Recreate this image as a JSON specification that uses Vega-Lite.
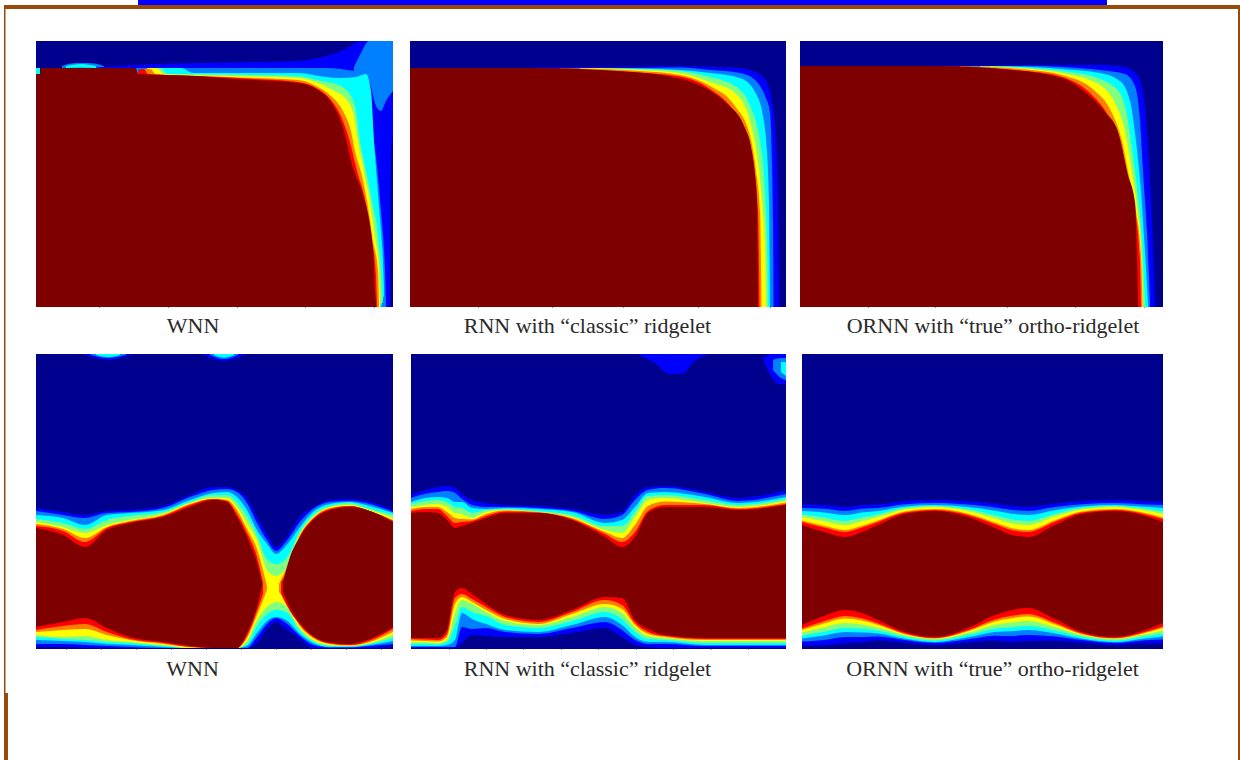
{"$schema":"https://vega.github.io/schema/vega-lite/v6.json","padding":0,"background":"white","bounds":"flush","spacing":0,"resolve":{"scale":{"color":"independent"}},"config":{"view":{"stroke":null},"axis":{"labels":false,"domain":false,"grid":false,"titleFont":"Liberation Serif","titleFontWeight":"normal","titleFontSize":22,"titleColor":"#2a2a2a","titleAnchor":"middle","titleBaseline":"alphabetic","titleAlign":"center","tickColor":"#222","tickSize":-3,"zindex":1}},
"vconcat":[
{"width":1127,"height":1,"view":{"stroke":null},"data":{"values":[
{"part":"page","x":0,"x2":1240,"y":0,"y2":760},
{"part":"bar","x":138,"x2":1107,"y":0,"y2":5},
{"part":"top","x":4,"x2":1240,"y":5,"y2":9},
{"part":"left","x":4,"x2":5.5,"y":9,"y2":693},
{"part":"foot","x":4,"x2":8,"y":693,"y2":760},
{"part":"right","x":1238,"x2":1240,"y":9,"y2":760}]},
"mark":{"type":"rect","clip":false},
"encoding":{"x":{"field":"x","type":"quantitative","axis":null,"scale":{"domain":[36,1163],"nice":false,"zero":false}},"x2":{"field":"x2"},"y":{"field":"y","type":"quantitative","axis":null,"scale":{"domain":[40,41],"nice":false,"zero":false,"reverse":true}},"y2":{"field":"y2"},"color":{"field":"part","type":"nominal","legend":null,"scale":{"domain":["page","bar","top","left","foot","right"],"range":["#ffffff","#0000ff","#9a4a08","#9a4a08","#9a4a08","#9a4a08"]}}}},
{"bounds":"flush","spacing":313,"vconcat":[
{"bounds":"flush","spacing":17,"hconcat":[
{"width":357,"height":266,"view":{"fill":"#00008f","stroke":null},"data":{"values":[
{"level":0.25,"part":"b1","x":26,"y":25,"y2":27},{"level":0.25,"part":"b1","x":35,"y":22.5,"y2":27},{"level":0.25,"part":"b1","x":46,"y":22,"y2":27},{"level":0.25,"part":"b1","x":58,"y":22.5,"y2":27},{"level":0.25,"part":"b1","x":68,"y":25,"y2":27},
{"level":0.375,"part":"b1","x":30,"y":25,"y2":27},{"level":0.375,"part":"b1","x":45,"y":23,"y2":26.5},{"level":0.375,"part":"b1","x":60,"y":25,"y2":27},
{"level":0.375,"part":"b2","x":0,"y":27,"y2":33},{"level":0.375,"part":"b2","x":4,"y":27,"y2":33},
{"level":0.125,"x":60,"y":26.5,"y2":266},{"level":0.125,"x":100,"y":24,"y2":266},{"level":0.125,"x":160,"y":22,"y2":266},{"level":0.125,"x":220,"y":21,"y2":266},{"level":0.125,"x":262,"y":20,"y2":266},{"level":0.125,"x":290,"y":15,"y2":266},{"level":0.125,"x":310,"y":8,"y2":266},{"level":0.125,"x":325,"y":0,"y2":266},{"level":0.125,"x":345,"y":0,"y2":266},{"level":0.125,"x":354,"y":0,"y2":266},{"level":0.125,"x":355,"y":0,"y2":120},{"level":0.125,"x":357,"y":0,"y2":95},
{"level":0.25,"part":"c","x":318,"y":26,"y2":30},{"level":0.25,"part":"c","x":325,"y":12,"y2":35},{"level":0.25,"part":"c","x":333,"y":0,"y2":40},{"level":0.25,"part":"c","x":340,"y":0,"y2":65},{"level":0.25,"part":"c","x":345,"y":0,"y2":70},{"level":0.25,"part":"c","x":350,"y":0,"y2":60},{"level":0.25,"part":"c","x":357,"y":0,"y2":50},
{"level":0.25,"x":100,"y":27,"y2":266},{"level":0.25,"x":160,"y":27,"y2":266},{"level":0.25,"x":220,"y":27,"y2":266},{"level":0.25,"x":262,"y":27,"y2":266},{"level":0.25,"x":290,"y":27,"y2":266},{"level":0.25,"x":305,"y":28,"y2":266},{"level":0.25,"x":318,"y":30,"y2":266},{"level":0.25,"x":330,"y":32,"y2":266},{"level":0.25,"x":335,"y":60,"y2":266},{"level":0.25,"x":337,"y":90,"y2":266},{"level":0.25,"x":341,"y":125,"y2":266},{"level":0.25,"x":345,"y":170,"y2":266},{"level":0.25,"x":349,"y":230,"y2":266},{"level":0.25,"x":350,"y":262,"y2":266},
{"level":0.375,"x":118,"y":33,"y2":266},{"level":0.375,"x":122,"y":27,"y2":266},{"level":0.375,"x":145,"y":27,"y2":266},{"level":0.375,"x":157,"y":32,"y2":266},{"level":0.375,"x":220,"y":32,"y2":266},{"level":0.375,"x":262,"y":32,"y2":266},{"level":0.375,"x":290,"y":36,"y2":266},{"level":0.375,"x":305,"y":37,"y2":266},{"level":0.375,"x":320,"y":36,"y2":266},{"level":0.375,"x":330,"y":33,"y2":266},{"level":0.375,"x":335,"y":50,"y2":266},{"level":0.375,"x":338,"y":100,"y2":266},{"level":0.375,"x":341,"y":140,"y2":266},{"level":0.375,"x":345,"y":190,"y2":266},{"level":0.375,"x":347,"y":220,"y2":258},{"level":0.375,"x":348,"y":245,"y2":254},
{"level":0.5,"x":115,"y":33,"y2":266},{"level":0.5,"x":118,"y":27,"y2":266},{"level":0.5,"x":124,"y":27,"y2":266},{"level":0.5,"x":132,"y":33,"y2":266},{"level":0.5,"x":160,"y":33,"y2":266},{"level":0.5,"x":220,"y":34,"y2":266},{"level":0.5,"x":262,"y":35,"y2":266},{"level":0.5,"x":285,"y":40,"y2":266},{"level":0.5,"x":300,"y":43,"y2":266},{"level":0.5,"x":315,"y":55,"y2":266},{"level":0.5,"x":320,"y":70,"y2":266},{"level":0.5,"x":324,"y":100,"y2":266},{"level":0.5,"x":330,"y":130,"y2":266},{"level":0.5,"x":336,"y":160,"y2":266},{"level":0.5,"x":342,"y":195,"y2":266},{"level":0.5,"x":345,"y":230,"y2":262},{"level":0.5,"x":346.5,"y":258,"y2":262},
{"level":0.625,"x":108,"y":33,"y2":266},{"level":0.625,"x":112,"y":27,"y2":266},{"level":0.625,"x":120,"y":27,"y2":266},{"level":0.625,"x":128,"y":33,"y2":266},{"level":0.625,"x":160,"y":34.5,"y2":266},{"level":0.625,"x":220,"y":35.5,"y2":266},{"level":0.625,"x":262,"y":37,"y2":266},{"level":0.625,"x":285,"y":43,"y2":266},{"level":0.625,"x":298,"y":50,"y2":266},{"level":0.625,"x":310,"y":58,"y2":266},{"level":0.625,"x":318,"y":75,"y2":266},{"level":0.625,"x":322,"y":100,"y2":266},{"level":0.625,"x":328,"y":130,"y2":266},{"level":0.625,"x":333,"y":155,"y2":266},{"level":0.625,"x":339,"y":195,"y2":266},{"level":0.625,"x":343,"y":225,"y2":266},{"level":0.625,"x":344,"y":262,"y2":266},
{"level":0.75,"x":104,"y":33,"y2":266},{"level":0.75,"x":108,"y":28,"y2":266},{"level":0.75,"x":114,"y":28,"y2":266},{"level":0.75,"x":120,"y":33,"y2":266},{"level":0.75,"x":160,"y":35,"y2":266},{"level":0.75,"x":220,"y":37,"y2":266},{"level":0.75,"x":262,"y":39,"y2":266},{"level":0.75,"x":282,"y":46,"y2":266},{"level":0.75,"x":295,"y":55,"y2":266},{"level":0.75,"x":307,"y":70,"y2":266},{"level":0.75,"x":315,"y":90,"y2":266},{"level":0.75,"x":319,"y":110,"y2":266},{"level":0.75,"x":326,"y":135,"y2":266},{"level":0.75,"x":331,"y":160,"y2":266},{"level":0.75,"x":337,"y":200,"y2":266},{"level":0.75,"x":342,"y":230,"y2":266},{"level":0.75,"x":343,"y":262,"y2":266},
{"level":0.875,"x":101,"y":33,"y2":266},{"level":0.875,"x":104,"y":28,"y2":266},{"level":0.875,"x":108,"y":28,"y2":266},{"level":0.875,"x":112,"y":33,"y2":266},{"level":0.875,"x":160,"y":35,"y2":266},{"level":0.875,"x":220,"y":38,"y2":266},{"level":0.875,"x":262,"y":41,"y2":266},{"level":0.875,"x":282,"y":48,"y2":266},{"level":0.875,"x":295,"y":59,"y2":266},{"level":0.875,"x":307,"y":80,"y2":266},{"level":0.875,"x":315,"y":105,"y2":266},{"level":0.875,"x":321,"y":130,"y2":266},{"level":0.875,"x":329,"y":158,"y2":266},{"level":0.875,"x":336,"y":200,"y2":266},{"level":0.875,"x":340,"y":235,"y2":266},{"level":0.875,"x":341,"y":262,"y2":266},
{"level":1,"x":0,"y":33,"y2":266},{"level":1,"x":4,"y":33,"y2":266},{"level":1,"x":5,"y":27,"y2":266},{"level":1,"x":100,"y":27,"y2":266},{"level":1,"x":101.5,"y":33,"y2":266},{"level":1,"x":160,"y":35,"y2":266},{"level":1,"x":200,"y":38,"y2":266},{"level":1,"x":262,"y":42,"y2":266},{"level":1,"x":282,"y":49,"y2":266},{"level":1,"x":295,"y":61,"y2":266},{"level":1,"x":307,"y":87,"y2":266},{"level":1,"x":317,"y":127,"y2":266},{"level":1,"x":327,"y":154,"y2":266},{"level":1,"x":337,"y":207,"y2":266},{"level":1,"x":339,"y":250,"y2":266},{"level":1,"x":340,"y":262,"y2":266}]},
"mark":{"type":"area","interpolate":"monotone","orient":"vertical"},
"encoding":{"x":{"field":"x","type":"quantitative","scale":{"domain":[0,357],"nice":false,"zero":false},"axis":{"title":"WNN","titleX":156.5,"titleY":25,"values":[63,132,201,269,338]}},"y":{"field":"y","type":"quantitative","scale":{"domain":[0,266],"nice":false,"zero":false,"reverse":true},"axis":{"title":null,"values":[69,117,167,214,261]}},"y2":{"field":"y2"},"detail":{"field":"part"},"color":{"field":"level","type":"ordinal","legend":null,"scale":{"domain":[0.125,0.25,0.375,0.5,0.625,0.75,0.875,1],"range":["#0000ff","#0080ff","#00ffff","#80ff80","#ffff00","#ff8000","#ff0000","#7f0000"]}}}},
{"bounds":"flush","spacing":14,"hconcat":[
{"width":376,"height":266,"view":{"fill":"#00008f","stroke":null},"data":{"values":[
{"level":0.125,"x":120,"y":26.5,"y2":266},{"level":0.125,"x":200,"y":26,"y2":266},{"level":0.125,"x":270,"y":25,"y2":266},{"level":0.125,"x":300,"y":26,"y2":266},{"level":0.125,"x":330,"y":27,"y2":266},{"level":0.125,"x":345,"y":31,"y2":266},{"level":0.125,"x":355,"y":38,"y2":266},{"level":0.125,"x":362,"y":60,"y2":266},{"level":0.125,"x":366,"y":100,"y2":266},{"level":0.125,"x":368,"y":150,"y2":266},{"level":0.125,"x":369,"y":262,"y2":266},
{"level":0.25,"x":160,"y":27,"y2":266},{"level":0.25,"x":230,"y":27,"y2":266},{"level":0.25,"x":270,"y":26.5,"y2":266},{"level":0.25,"x":300,"y":29,"y2":266},{"level":0.25,"x":330,"y":32,"y2":266},{"level":0.25,"x":345,"y":39,"y2":266},{"level":0.25,"x":355,"y":55,"y2":266},{"level":0.25,"x":360,"y":71,"y2":266},{"level":0.25,"x":362,"y":120,"y2":266},{"level":0.25,"x":363,"y":180,"y2":266},{"level":0.25,"x":363.5,"y":262,"y2":266},
{"level":0.375,"x":170,"y":27,"y2":266},{"level":0.375,"x":230,"y":27.5,"y2":266},{"level":0.375,"x":270,"y":29,"y2":266},{"level":0.375,"x":300,"y":32,"y2":266},{"level":0.375,"x":330,"y":37,"y2":266},{"level":0.375,"x":345,"y":51,"y2":266},{"level":0.375,"x":353,"y":75,"y2":266},{"level":0.375,"x":357,"y":110,"y2":266},{"level":0.375,"x":359,"y":160,"y2":266},{"level":0.375,"x":360,"y":262,"y2":266},
{"level":0.5,"x":175,"y":27,"y2":266},{"level":0.5,"x":230,"y":28,"y2":266},{"level":0.5,"x":270,"y":30,"y2":266},{"level":0.5,"x":300,"y":36,"y2":266},{"level":0.5,"x":325,"y":45,"y2":266},{"level":0.5,"x":340,"y":65,"y2":266},{"level":0.5,"x":350,"y":100,"y2":266},{"level":0.5,"x":355,"y":150,"y2":266},{"level":0.5,"x":357,"y":200,"y2":266},{"level":0.5,"x":358,"y":262,"y2":266},
{"level":0.625,"x":170,"y":27,"y2":266},{"level":0.625,"x":230,"y":29,"y2":266},{"level":0.625,"x":270,"y":32,"y2":266},{"level":0.625,"x":300,"y":41,"y2":266},{"level":0.625,"x":325,"y":52,"y2":266},{"level":0.625,"x":340,"y":80,"y2":266},{"level":0.625,"x":348,"y":120,"y2":266},{"level":0.625,"x":353,"y":170,"y2":266},{"level":0.625,"x":355,"y":200,"y2":266},{"level":0.625,"x":356,"y":262,"y2":266},
{"level":0.75,"x":150,"y":27,"y2":266},{"level":0.75,"x":230,"y":30,"y2":266},{"level":0.75,"x":270,"y":34,"y2":266},{"level":0.75,"x":300,"y":45,"y2":266},{"level":0.75,"x":325,"y":65,"y2":266},{"level":0.75,"x":340,"y":95,"y2":266},{"level":0.75,"x":346,"y":130,"y2":266},{"level":0.75,"x":350,"y":170,"y2":266},{"level":0.75,"x":351.5,"y":262,"y2":266},
{"level":0.875,"x":125,"y":27,"y2":266},{"level":0.875,"x":210,"y":30.5,"y2":266},{"level":0.875,"x":270,"y":35.5,"y2":266},{"level":0.875,"x":300,"y":48,"y2":266},{"level":0.875,"x":325,"y":72,"y2":266},{"level":0.875,"x":338,"y":98,"y2":266},{"level":0.875,"x":344,"y":125,"y2":266},{"level":0.875,"x":348,"y":170,"y2":266},{"level":0.875,"x":349.5,"y":262,"y2":266},
{"level":1,"x":0,"y":27,"y2":266},{"level":1,"x":123,"y":27,"y2":266},{"level":1,"x":200,"y":29.5,"y2":266},{"level":1,"x":262,"y":36,"y2":266},{"level":1,"x":295,"y":47,"y2":266},{"level":1,"x":315,"y":61,"y2":266},{"level":1,"x":335,"y":87,"y2":266},{"level":1,"x":342,"y":111,"y2":266},{"level":1,"x":347,"y":161,"y2":266},{"level":1,"x":348,"y":262,"y2":266}]},
"mark":{"type":"area","interpolate":"monotone","orient":"vertical"},
"encoding":{"x":{"field":"x","type":"quantitative","scale":{"domain":[0,376],"nice":false,"zero":false},"axis":{"title":"RNN with “classic” ridgelet","titleX":177,"titleY":25,"values":[68,142,213,288,360]}},"y":{"field":"y","type":"quantitative","scale":{"domain":[0,266],"nice":false,"zero":false,"reverse":true},"axis":{"title":null,"values":[69,116,166,214,262]}},"y2":{"field":"y2"},"color":{"field":"level","type":"ordinal","legend":null,"scale":{"domain":[0.125,0.25,0.375,0.5,0.625,0.75,0.875,1],"range":["#0000ff","#0080ff","#00ffff","#80ff80","#ffff00","#ff8000","#ff0000","#7f0000"]}}}},
{"width":363,"height":266,"view":{"fill":"#00008f","stroke":null},"data":{"values":[
{"level":0.125,"x":130,"y":25,"y2":266},{"level":0.125,"x":200,"y":24.5,"y2":266},{"level":0.125,"x":262,"y":24,"y2":266},{"level":0.125,"x":300,"y":24,"y2":266},{"level":0.125,"x":325,"y":26,"y2":266},{"level":0.125,"x":338,"y":35,"y2":266},{"level":0.125,"x":345,"y":65,"y2":266},{"level":0.125,"x":349,"y":120,"y2":266},{"level":0.125,"x":352,"y":180,"y2":266},{"level":0.125,"x":355,"y":262,"y2":266},
{"level":0.25,"x":170,"y":25,"y2":266},{"level":0.25,"x":230,"y":25,"y2":266},{"level":0.25,"x":262,"y":26,"y2":266},{"level":0.25,"x":300,"y":29,"y2":266},{"level":0.25,"x":325,"y":33,"y2":266},{"level":0.25,"x":335,"y":45,"y2":266},{"level":0.25,"x":340,"y":80,"y2":266},{"level":0.25,"x":343,"y":130,"y2":266},{"level":0.25,"x":347,"y":190,"y2":266},{"level":0.25,"x":350,"y":262,"y2":266},
{"level":0.375,"x":180,"y":25,"y2":266},{"level":0.375,"x":230,"y":26,"y2":266},{"level":0.375,"x":262,"y":28,"y2":266},{"level":0.375,"x":300,"y":32,"y2":266},{"level":0.375,"x":320,"y":40,"y2":266},{"level":0.375,"x":330,"y":60,"y2":266},{"level":0.375,"x":336,"y":100,"y2":266},{"level":0.375,"x":341,"y":150,"y2":266},{"level":0.375,"x":345,"y":210,"y2":266},{"level":0.375,"x":348,"y":262,"y2":266},
{"level":0.5,"x":190,"y":25,"y2":266},{"level":0.5,"x":230,"y":27,"y2":266},{"level":0.5,"x":262,"y":30,"y2":266},{"level":0.5,"x":300,"y":38,"y2":266},{"level":0.5,"x":320,"y":52,"y2":266},{"level":0.5,"x":328,"y":80,"y2":266},{"level":0.5,"x":333,"y":115,"y2":266},{"level":0.5,"x":338,"y":155,"y2":266},{"level":0.5,"x":342,"y":200,"y2":266},{"level":0.5,"x":345,"y":262,"y2":266},
{"level":0.625,"x":180,"y":25.5,"y2":266},{"level":0.625,"x":230,"y":28,"y2":266},{"level":0.625,"x":262,"y":32,"y2":266},{"level":0.625,"x":300,"y":44,"y2":266},{"level":0.625,"x":315,"y":62,"y2":266},{"level":0.625,"x":325,"y":90,"y2":266},{"level":0.625,"x":331,"y":125,"y2":266},{"level":0.625,"x":337,"y":165,"y2":266},{"level":0.625,"x":341,"y":205,"y2":266},{"level":0.625,"x":343,"y":262,"y2":266},
{"level":0.75,"x":160,"y":25,"y2":266},{"level":0.75,"x":230,"y":29,"y2":266},{"level":0.75,"x":262,"y":34,"y2":266},{"level":0.75,"x":295,"y":50,"y2":266},{"level":0.75,"x":312,"y":72,"y2":266},{"level":0.75,"x":322,"y":100,"y2":266},{"level":0.75,"x":329,"y":135,"y2":266},{"level":0.75,"x":336,"y":170,"y2":266},{"level":0.75,"x":341,"y":215,"y2":266},{"level":0.75,"x":342.5,"y":262,"y2":266},
{"level":0.875,"x":140,"y":25,"y2":266},{"level":0.875,"x":215,"y":29,"y2":266},{"level":0.875,"x":262,"y":36,"y2":266},{"level":0.875,"x":290,"y":52,"y2":266},{"level":0.875,"x":308,"y":74,"y2":266},{"level":0.875,"x":320,"y":98,"y2":266},{"level":0.875,"x":328,"y":137,"y2":266},{"level":0.875,"x":335,"y":168,"y2":266},{"level":0.875,"x":340,"y":220,"y2":266},{"level":0.875,"x":341,"y":262,"y2":266},
{"level":1,"x":0,"y":25,"y2":266},{"level":1,"x":132,"y":25,"y2":266},{"level":1,"x":212,"y":29,"y2":266},{"level":1,"x":262,"y":37,"y2":266},{"level":1,"x":285,"y":51,"y2":266},{"level":1,"x":305,"y":71,"y2":266},{"level":1,"x":318,"y":91,"y2":266},{"level":1,"x":328,"y":134,"y2":266},{"level":1,"x":335,"y":161,"y2":266},{"level":1,"x":338,"y":262,"y2":266}]},
"mark":{"type":"area","interpolate":"monotone","orient":"vertical"},
"encoding":{"x":{"field":"x","type":"quantitative","scale":{"domain":[0,363],"nice":false,"zero":false},"axis":{"title":"ORNN with “true” ortho-ridgelet","titleX":192.5,"titleY":25,"values":[68,135,207,275,344]}},"y":{"field":"y","type":"quantitative","scale":{"domain":[0,266],"nice":false,"zero":false,"reverse":true},"axis":{"title":null,"values":[66,114,161,209,256]}},"y2":{"field":"y2"},"color":{"field":"level","type":"ordinal","legend":null,"scale":{"domain":[0.125,0.25,0.375,0.5,0.625,0.75,0.875,1],"range":["#0000ff","#0080ff","#00ffff","#80ff80","#ffff00","#ff8000","#ff0000","#7f0000"]}}}}
]}]},
{"bounds":"flush","spacing":18,"hconcat":[
{"width":357,"height":295,"view":{"fill":"#00008f","stroke":null},"data":{"values":[
{"level":0.125,"part":"t1","x":49,"y":0,"y2":1},{"level":0.125,"part":"t1","x":60,"y":0,"y2":4},{"level":0.125,"part":"t1","x":72,"y":0,"y2":6},{"level":0.125,"part":"t1","x":84,"y":0,"y2":4},{"level":0.125,"part":"t1","x":95,"y":0,"y2":1},
{"level":0.25,"part":"t1","x":55,"y":0,"y2":1},{"level":0.25,"part":"t1","x":72,"y":0,"y2":4},{"level":0.25,"part":"t1","x":90,"y":0,"y2":1},
{"level":0.375,"part":"t1","x":60,"y":0,"y2":1},{"level":0.375,"part":"t1","x":72,"y":0,"y2":3},{"level":0.375,"part":"t1","x":84,"y":0,"y2":1},
{"level":0.125,"part":"t2","x":168,"y":0,"y2":1},{"level":0.125,"part":"t2","x":178,"y":0,"y2":5},{"level":0.125,"part":"t2","x":188,"y":0,"y2":7},{"level":0.125,"part":"t2","x":198,"y":0,"y2":5},{"level":0.125,"part":"t2","x":208,"y":0,"y2":1},
{"level":0.25,"part":"t2","x":174,"y":0,"y2":1},{"level":0.25,"part":"t2","x":188,"y":0,"y2":5},{"level":0.25,"part":"t2","x":202,"y":0,"y2":1},
{"level":0.375,"part":"t2","x":178,"y":0,"y2":1},{"level":0.375,"part":"t2","x":188,"y":0,"y2":3.5},{"level":0.375,"part":"t2","x":198,"y":0,"y2":1},
{"level":0.125,"x":0,"y":154,"y2":293},{"level":0.125,"x":27,"y":158,"y2":293},{"level":0.125,"x":49,"y":161,"y2":294},{"level":0.125,"x":71,"y":157,"y2":294},{"level":0.125,"x":94,"y":156,"y2":294},{"level":0.125,"x":127,"y":152,"y2":294},{"level":0.125,"x":154,"y":141,"y2":294},{"level":0.125,"x":177,"y":133,"y2":294},{"level":0.125,"x":191,"y":133,"y2":294},{"level":0.125,"x":201,"y":136,"y2":294},{"level":0.125,"x":211,"y":144,"y2":294},{"level":0.125,"x":221,"y":163,"y2":289},{"level":0.125,"x":231,"y":180,"y2":275},{"level":0.125,"x":240,"y":193,"y2":268},{"level":0.125,"x":250,"y":184,"y2":275},{"level":0.125,"x":264,"y":163,"y2":285},{"level":0.125,"x":277,"y":153,"y2":294},{"level":0.125,"x":294,"y":146,"y2":294},{"level":0.125,"x":314,"y":145,"y2":294},{"level":0.125,"x":334,"y":148,"y2":294},{"level":0.125,"x":357,"y":156,"y2":292},
{"level":0.25,"x":0,"y":157,"y2":290},{"level":0.25,"x":27,"y":161,"y2":290},{"level":0.25,"x":49,"y":164,"y2":291},{"level":0.25,"x":71,"y":159,"y2":292},{"level":0.25,"x":94,"y":158,"y2":293},{"level":0.25,"x":127,"y":154,"y2":294},{"level":0.25,"x":154,"y":143,"y2":294},{"level":0.25,"x":177,"y":136,"y2":294},{"level":0.25,"x":191,"y":135,"y2":294},{"level":0.25,"x":201,"y":138,"y2":294},{"level":0.25,"x":211,"y":149,"y2":294},{"level":0.25,"x":221,"y":169,"y2":283},{"level":0.25,"x":231,"y":186,"y2":270},{"level":0.25,"x":240,"y":197,"y2":264},{"level":0.25,"x":250,"y":188,"y2":269},{"level":0.25,"x":264,"y":168,"y2":282},{"level":0.25,"x":277,"y":155,"y2":291},{"level":0.25,"x":294,"y":148,"y2":293.5},{"level":0.25,"x":314,"y":147,"y2":293.5},{"level":0.25,"x":334,"y":150,"y2":292},{"level":0.25,"x":357,"y":158,"y2":290},
{"level":0.375,"x":0,"y":161,"y2":286},{"level":0.375,"x":27,"y":164,"y2":287},{"level":0.375,"x":49,"y":171,"y2":288},{"level":0.375,"x":71,"y":161,"y2":290},{"level":0.375,"x":94,"y":159,"y2":291},{"level":0.375,"x":127,"y":156,"y2":293},{"level":0.375,"x":154,"y":146,"y2":294},{"level":0.375,"x":177,"y":139,"y2":294},{"level":0.375,"x":191,"y":138,"y2":294},{"level":0.375,"x":201,"y":143,"y2":294},{"level":0.375,"x":211,"y":156,"y2":292},{"level":0.375,"x":221,"y":176,"y2":279},{"level":0.375,"x":231,"y":190,"y2":267},{"level":0.375,"x":240,"y":200,"y2":263},{"level":0.375,"x":250,"y":192,"y2":266},{"level":0.375,"x":264,"y":173,"y2":280},{"level":0.375,"x":277,"y":158,"y2":289},{"level":0.375,"x":294,"y":150,"y2":293},{"level":0.375,"x":314,"y":148,"y2":293},{"level":0.375,"x":334,"y":152,"y2":291},{"level":0.375,"x":357,"y":159,"y2":287},
{"level":0.5,"x":0,"y":165,"y2":283},{"level":0.5,"x":27,"y":169,"y2":285},{"level":0.5,"x":49,"y":175,"y2":286},{"level":0.5,"x":71,"y":166,"y2":288},{"level":0.5,"x":94,"y":162,"y2":289},{"level":0.5,"x":127,"y":158,"y2":292},{"level":0.5,"x":154,"y":148,"y2":294},{"level":0.5,"x":177,"y":141,"y2":294},{"level":0.5,"x":191,"y":141,"y2":294},{"level":0.5,"x":201,"y":148,"y2":294},{"level":0.5,"x":211,"y":162,"y2":290},{"level":0.5,"x":221,"y":181,"y2":272},{"level":0.5,"x":231,"y":205,"y2":260},{"level":0.5,"x":240,"y":210,"y2":256},{"level":0.5,"x":250,"y":205,"y2":258},{"level":0.5,"x":264,"y":177,"y2":277},{"level":0.5,"x":277,"y":161,"y2":287.5},{"level":0.5,"x":294,"y":152,"y2":292},{"level":0.5,"x":314,"y":149,"y2":292.5},{"level":0.5,"x":334,"y":155,"y2":290},{"level":0.5,"x":357,"y":161,"y2":284},
{"level":0.625,"x":0,"y":168,"y2":281},{"level":0.625,"x":27,"y":173,"y2":283},{"level":0.625,"x":49,"y":179,"y2":282},{"level":0.625,"x":71,"y":171,"y2":286},{"level":0.625,"x":94,"y":166,"y2":288},{"level":0.625,"x":127,"y":160,"y2":291},{"level":0.625,"x":154,"y":149,"y2":294},{"level":0.625,"x":177,"y":144,"y2":294},{"level":0.625,"x":191,"y":144,"y2":294},{"level":0.625,"x":201,"y":153,"y2":294},{"level":0.625,"x":211,"y":169,"y2":287},{"level":0.625,"x":221,"y":186,"y2":266},{"level":0.625,"x":231,"y":216,"y2":253},{"level":0.625,"x":240,"y":222,"y2":248},{"level":0.625,"x":250,"y":215,"y2":252},{"level":0.625,"x":264,"y":180,"y2":274},{"level":0.625,"x":277,"y":163,"y2":286},{"level":0.625,"x":294,"y":153,"y2":291},{"level":0.625,"x":314,"y":151,"y2":292},{"level":0.625,"x":334,"y":156,"y2":289},{"level":0.625,"x":357,"y":164,"y2":281},
{"level":0.75,"part":"L","x":0,"y":170,"y2":278},{"level":0.75,"part":"L","x":27,"y":175,"y2":276},{"level":0.75,"part":"L","x":49,"y":184,"y2":275},{"level":0.75,"part":"L","x":71,"y":173,"y2":281},{"level":0.75,"part":"L","x":94,"y":167,"y2":286},{"level":0.75,"part":"L","x":127,"y":161,"y2":290},{"level":0.75,"part":"L","x":154,"y":150,"y2":293},{"level":0.75,"part":"L","x":177,"y":145,"y2":294},{"level":0.75,"part":"L","x":191,"y":146,"y2":294},{"level":0.75,"part":"L","x":201,"y":156,"y2":294},{"level":0.75,"part":"L","x":211,"y":175,"y2":284},{"level":0.75,"part":"L","x":221,"y":195,"y2":261},{"level":0.75,"part":"L","x":231,"y":232,"y2":236},
{"level":0.75,"part":"R","x":243,"y":230,"y2":238},{"level":0.75,"part":"R","x":250,"y":215,"y2":246},{"level":0.75,"part":"R","x":264,"y":181,"y2":272},{"level":0.75,"part":"R","x":277,"y":164,"y2":284},{"level":0.75,"part":"R","x":294,"y":154,"y2":290},{"level":0.75,"part":"R","x":314,"y":152,"y2":291.5},{"level":0.75,"part":"R","x":334,"y":157,"y2":288},{"level":0.75,"part":"R","x":357,"y":166,"y2":278},
{"level":0.875,"part":"L","x":0,"y":172,"y2":276},{"level":0.875,"part":"L","x":27,"y":177,"y2":272},{"level":0.875,"part":"L","x":49,"y":188,"y2":270},{"level":0.875,"part":"L","x":71,"y":174,"y2":278},{"level":0.875,"part":"L","x":94,"y":168,"y2":285},{"level":0.875,"part":"L","x":127,"y":162,"y2":289},{"level":0.875,"part":"L","x":154,"y":151,"y2":293},{"level":0.875,"part":"L","x":177,"y":145,"y2":294},{"level":0.875,"part":"L","x":191,"y":147,"y2":294},{"level":0.875,"part":"L","x":201,"y":160,"y2":294},{"level":0.875,"part":"L","x":211,"y":179,"y2":282},{"level":0.875,"part":"L","x":221,"y":203,"y2":257},{"level":0.875,"part":"L","x":227,"y":229,"y2":240},
{"level":0.875,"part":"R","x":245,"y":228,"y2":240},{"level":0.875,"part":"R","x":250,"y":220,"y2":250},{"level":0.875,"part":"R","x":264,"y":182,"y2":271},{"level":0.875,"part":"R","x":277,"y":165,"y2":283},{"level":0.875,"part":"R","x":294,"y":155,"y2":289.5},{"level":0.875,"part":"R","x":314,"y":152,"y2":291},{"level":0.875,"part":"R","x":334,"y":157,"y2":286.5},{"level":0.875,"part":"R","x":357,"y":167,"y2":275},
{"level":1,"part":"L","x":0,"y":174,"y2":273},{"level":1,"part":"L","x":27,"y":181,"y2":268},{"level":1,"part":"L","x":49,"y":193,"y2":264},{"level":1,"part":"L","x":71,"y":176,"y2":274},{"level":1,"part":"L","x":94,"y":169,"y2":283},{"level":1,"part":"L","x":127,"y":163,"y2":288},{"level":1,"part":"L","x":154,"y":153,"y2":292},{"level":1,"part":"L","x":177,"y":146,"y2":294},{"level":1,"part":"L","x":191,"y":148,"y2":294},{"level":1,"part":"L","x":201,"y":163,"y2":294},{"level":1,"part":"L","x":211,"y":183,"y2":279},{"level":1,"part":"L","x":221,"y":209,"y2":253},{"level":1,"part":"L","x":226,"y":228,"y2":232},
{"level":1,"part":"R","x":247,"y":228,"y2":238},{"level":1,"part":"R","x":254,"y":203,"y2":254},{"level":1,"part":"R","x":264,"y":183,"y2":269},{"level":1,"part":"R","x":277,"y":166,"y2":282},{"level":1,"part":"R","x":294,"y":156,"y2":288.5},{"level":1,"part":"R","x":314,"y":153,"y2":290},{"level":1,"part":"R","x":334,"y":157,"y2":285},{"level":1,"part":"R","x":357,"y":168,"y2":273}]},
"mark":{"type":"area","interpolate":"monotone","orient":"vertical"},
"encoding":{"x":{"field":"x","type":"quantitative","scale":{"domain":[0,357],"nice":false,"zero":false},"axis":{"title":"WNN","titleX":156,"titleY":26,"values":[30,65,100,135,170,205,240,275,310,345],"tickSize":-2}},"y":{"field":"y","type":"quantitative","scale":{"domain":[0,295],"nice":false,"zero":false,"reverse":true},"axis":null},"y2":{"field":"y2"},"detail":{"field":"part"},"color":{"field":"level","type":"ordinal","legend":null,"scale":{"domain":[0.125,0.25,0.375,0.5,0.625,0.75,0.875,1],"range":["#0000ff","#0080ff","#00ffff","#80ff80","#ffff00","#ff8000","#ff0000","#7f0000"]}}}},
{"bounds":"flush","spacing":16,"hconcat":[
{"width":375,"height":295,"view":{"fill":"#00008f","stroke":null},"data":{"values":[
{"level":0.125,"part":"t1","x":228,"y":0,"y2":1},{"level":0.125,"part":"t1","x":245,"y":0,"y2":10},{"level":0.125,"part":"t1","x":258,"y":0,"y2":20},{"level":0.125,"part":"t1","x":270,"y":0,"y2":20},{"level":0.125,"part":"t1","x":285,"y":0,"y2":6},{"level":0.125,"part":"t1","x":295,"y":0,"y2":1},
{"level":0.125,"part":"t2","x":352,"y":4,"y2":5},{"level":0.125,"part":"t2","x":360,"y":0,"y2":22},{"level":0.125,"part":"t2","x":368,"y":0,"y2":30},{"level":0.125,"part":"t2","x":375,"y":0,"y2":30},
{"level":0.25,"part":"t2","x":362,"y":6,"y2":16},{"level":0.25,"part":"t2","x":370,"y":4,"y2":24},{"level":0.25,"part":"t2","x":375,"y":4,"y2":26},
{"level":0.375,"part":"t2","x":370,"y":8,"y2":18},{"level":0.375,"part":"t2","x":375,"y":8,"y2":22},
{"level":0.125,"x":0,"y":141,"y2":294},{"level":0.125,"x":14,"y":136,"y2":294},{"level":0.125,"x":27,"y":133,"y2":294},{"level":0.125,"x":36,"y":132,"y2":294},{"level":0.125,"x":44,"y":134,"y2":294},{"level":0.125,"x":51,"y":140,"y2":289},{"level":0.125,"x":61,"y":146,"y2":281},{"level":0.125,"x":75,"y":149,"y2":282},{"level":0.125,"x":94,"y":151,"y2":283},{"level":0.125,"x":127,"y":152,"y2":283},{"level":0.125,"x":161,"y":155,"y2":279},{"level":0.125,"x":194,"y":161,"y2":274},{"level":0.125,"x":211,"y":158,"y2":283},{"level":0.125,"x":224,"y":141,"y2":291},{"level":0.125,"x":237,"y":133,"y2":293},{"level":0.125,"x":254,"y":132,"y2":294},{"level":0.125,"x":294,"y":138,"y2":294},{"level":0.125,"x":327,"y":144,"y2":294},{"level":0.125,"x":375,"y":136,"y2":294},
{"level":0.25,"x":0,"y":144,"y2":293},{"level":0.25,"x":14,"y":140,"y2":293},{"level":0.25,"x":27,"y":138,"y2":293},{"level":0.25,"x":36,"y":137,"y2":293},{"level":0.25,"x":44,"y":139,"y2":293},{"level":0.25,"x":51,"y":145,"y2":273},{"level":0.25,"x":61,"y":151,"y2":275},{"level":0.25,"x":75,"y":153,"y2":274},{"level":0.25,"x":94,"y":153,"y2":278},{"level":0.25,"x":127,"y":154,"y2":280},{"level":0.25,"x":161,"y":157,"y2":274},{"level":0.25,"x":194,"y":165,"y2":268},{"level":0.25,"x":211,"y":161,"y2":276},{"level":0.25,"x":224,"y":146,"y2":286},{"level":0.25,"x":237,"y":136,"y2":290},{"level":0.25,"x":254,"y":134,"y2":290},{"level":0.25,"x":294,"y":140,"y2":292},{"level":0.25,"x":327,"y":147,"y2":292},{"level":0.25,"x":375,"y":140,"y2":292},
{"level":0.375,"x":0,"y":148,"y2":292},{"level":0.375,"x":14,"y":144,"y2":292},{"level":0.375,"x":27,"y":143,"y2":292},{"level":0.375,"x":36,"y":144,"y2":291},{"level":0.375,"x":44,"y":148,"y2":286},{"level":0.375,"x":51,"y":148,"y2":259},{"level":0.375,"x":61,"y":154,"y2":265},{"level":0.375,"x":75,"y":155,"y2":270},{"level":0.375,"x":94,"y":154,"y2":276},{"level":0.375,"x":127,"y":155,"y2":278},{"level":0.375,"x":161,"y":158,"y2":271},{"level":0.375,"x":194,"y":169,"y2":263},{"level":0.375,"x":211,"y":166,"y2":271},{"level":0.375,"x":224,"y":153,"y2":283},{"level":0.375,"x":237,"y":139,"y2":288},{"level":0.375,"x":254,"y":138,"y2":288},{"level":0.375,"x":294,"y":143,"y2":291},{"level":0.375,"x":327,"y":149,"y2":291},{"level":0.375,"x":375,"y":143,"y2":291},
{"level":0.5,"x":0,"y":150,"y2":290},{"level":0.5,"x":14,"y":147,"y2":290},{"level":0.5,"x":27,"y":146,"y2":290.5},{"level":0.5,"x":36,"y":148,"y2":288},{"level":0.5,"x":44,"y":153,"y2":272},{"level":0.5,"x":51,"y":154,"y2":253},{"level":0.5,"x":61,"y":159,"y2":258},{"level":0.5,"x":75,"y":156,"y2":262},{"level":0.5,"x":94,"y":155,"y2":271},{"level":0.5,"x":127,"y":157,"y2":274},{"level":0.5,"x":161,"y":161,"y2":267},{"level":0.5,"x":194,"y":172,"y2":258},{"level":0.5,"x":211,"y":172,"y2":265},{"level":0.5,"x":224,"y":158,"y2":278},{"level":0.5,"x":237,"y":142,"y2":285},{"level":0.5,"x":254,"y":141,"y2":286},{"level":0.5,"x":294,"y":146,"y2":289},{"level":0.5,"x":327,"y":151,"y2":289},{"level":0.5,"x":375,"y":145,"y2":289},
{"level":0.625,"x":0,"y":153,"y2":288},{"level":0.625,"x":14,"y":151,"y2":288},{"level":0.625,"x":27,"y":150,"y2":289},{"level":0.625,"x":36,"y":153,"y2":286},{"level":0.625,"x":44,"y":159,"y2":259},{"level":0.625,"x":51,"y":160,"y2":246},{"level":0.625,"x":61,"y":164,"y2":250},{"level":0.625,"x":75,"y":158,"y2":258},{"level":0.625,"x":94,"y":156,"y2":267},{"level":0.625,"x":127,"y":158,"y2":271},{"level":0.625,"x":161,"y":163,"y2":263},{"level":0.625,"x":194,"y":176,"y2":253},{"level":0.625,"x":211,"y":179,"y2":259},{"level":0.625,"x":224,"y":163,"y2":273},{"level":0.625,"x":237,"y":146,"y2":282},{"level":0.625,"x":254,"y":144,"y2":284},{"level":0.625,"x":294,"y":149,"y2":287},{"level":0.625,"x":327,"y":153,"y2":287},{"level":0.625,"x":375,"y":147,"y2":287},
{"level":0.75,"x":0,"y":155,"y2":286.5},{"level":0.75,"x":14,"y":153,"y2":287},{"level":0.75,"x":27,"y":153,"y2":287.5},{"level":0.75,"x":36,"y":158,"y2":283},{"level":0.75,"x":44,"y":164,"y2":250},{"level":0.75,"x":51,"y":165,"y2":243},{"level":0.75,"x":61,"y":165.5,"y2":248},{"level":0.75,"x":75,"y":160,"y2":256},{"level":0.75,"x":94,"y":156.5,"y2":265},{"level":0.75,"x":127,"y":158,"y2":270},{"level":0.75,"x":161,"y":164,"y2":260},{"level":0.75,"x":194,"y":178,"y2":250},{"level":0.75,"x":211,"y":184,"y2":255},{"level":0.75,"x":224,"y":171,"y2":271},{"level":0.75,"x":237,"y":152,"y2":280},{"level":0.75,"x":254,"y":147.5,"y2":283},{"level":0.75,"x":294,"y":150,"y2":286},{"level":0.75,"x":327,"y":154,"y2":286},{"level":0.75,"x":375,"y":148.5,"y2":286},
{"level":0.875,"x":0,"y":157,"y2":285},{"level":0.875,"x":14,"y":155,"y2":285.5},{"level":0.875,"x":27,"y":155,"y2":286},{"level":0.875,"x":36,"y":162,"y2":280},{"level":0.875,"x":44,"y":169,"y2":244},{"level":0.875,"x":51,"y":168,"y2":240},{"level":0.875,"x":61,"y":167,"y2":245},{"level":0.875,"x":75,"y":162,"y2":253},{"level":0.875,"x":94,"y":157.5,"y2":263},{"level":0.875,"x":127,"y":158.5,"y2":268},{"level":0.875,"x":161,"y":165,"y2":258},{"level":0.875,"x":194,"y":180,"y2":246},{"level":0.875,"x":211,"y":188,"y2":251},{"level":0.875,"x":224,"y":178,"y2":269},{"level":0.875,"x":237,"y":157,"y2":278},{"level":0.875,"x":254,"y":151,"y2":282},{"level":0.875,"x":294,"y":151,"y2":285},{"level":0.875,"x":327,"y":155,"y2":285},{"level":0.875,"x":375,"y":150,"y2":285},
{"level":1,"x":0,"y":159,"y2":284},{"level":1,"x":14,"y":158,"y2":284},{"level":1,"x":27,"y":159,"y2":284},{"level":1,"x":36,"y":166,"y2":276},{"level":1,"x":44,"y":174,"y2":238},{"level":1,"x":51,"y":172,"y2":234},{"level":1,"x":61,"y":169,"y2":240},{"level":1,"x":75,"y":164,"y2":250},{"level":1,"x":94,"y":159,"y2":261},{"level":1,"x":127,"y":159,"y2":266},{"level":1,"x":161,"y":166,"y2":256},{"level":1,"x":194,"y":183,"y2":243},{"level":1,"x":211,"y":193,"y2":244},{"level":1,"x":224,"y":183,"y2":266},{"level":1,"x":237,"y":159,"y2":275},{"level":1,"x":254,"y":153,"y2":281},{"level":1,"x":294,"y":153,"y2":284},{"level":1,"x":327,"y":156,"y2":284},{"level":1,"x":375,"y":151,"y2":284}]},
"mark":{"type":"area","interpolate":"monotone","orient":"vertical"},
"encoding":{"x":{"field":"x","type":"quantitative","scale":{"domain":[0,375],"nice":false,"zero":false},"axis":{"title":"RNN with “classic” ridgelet","titleX":176,"titleY":26,"values":[38,75,112,150,187,225,262,300,337],"tickSize":-2}},"y":{"field":"y","type":"quantitative","scale":{"domain":[0,295],"nice":false,"zero":false,"reverse":true},"axis":null},"y2":{"field":"y2"},"detail":{"field":"part"},"color":{"field":"level","type":"ordinal","legend":null,"scale":{"domain":[0.125,0.25,0.375,0.5,0.625,0.75,0.875,1],"range":["#0000ff","#0080ff","#00ffff","#80ff80","#ffff00","#ff8000","#ff0000","#7f0000"]}}}},
{"width":361,"height":295,"view":{"fill":"#00008f","stroke":null},"data":{"values":[
{"level":0.125,"x":0,"y":150.5,"y2":291.5},{"level":0.125,"x":22,"y":151,"y2":291.3},{"level":0.125,"x":43,"y":153,"y2":289},{"level":0.125,"x":60,"y":151,"y2":288.3},{"level":0.125,"x":76,"y":150.5,"y2":286.5},{"level":0.125,"x":103,"y":147.1,"y2":288.5},{"level":0.125,"x":133,"y":146,"y2":291},{"level":0.125,"x":166,"y":147.2,"y2":288.3},{"level":0.125,"x":193,"y":149.7,"y2":286.5},{"level":0.125,"x":210,"y":152,"y2":287.8},{"level":0.125,"x":226,"y":153,"y2":287},{"level":0.125,"x":253,"y":149.5,"y2":286.8},{"level":0.125,"x":280,"y":147.1,"y2":288.5},{"level":0.125,"x":313,"y":146,"y2":291},{"level":0.125,"x":343,"y":147.2,"y2":289},{"level":0.125,"x":361,"y":147.5,"y2":289.5},
{"level":0.25,"x":0,"y":154,"y2":287.5},{"level":0.25,"x":22,"y":154.7,"y2":285.9},{"level":0.25,"x":43,"y":157,"y2":283},{"level":0.25,"x":60,"y":154.7,"y2":282.9},{"level":0.25,"x":76,"y":154,"y2":282.5},{"level":0.25,"x":103,"y":150.2,"y2":286.1},{"level":0.25,"x":133,"y":149,"y2":289},{"level":0.25,"x":166,"y":150.5,"y2":285.3},{"level":0.25,"x":193,"y":153.4,"y2":281.7},{"level":0.25,"x":210,"y":155.9,"y2":282},{"level":0.25,"x":226,"y":157,"y2":281},{"level":0.25,"x":253,"y":153.1,"y2":282.6},{"level":0.25,"x":280,"y":150.2,"y2":286.1},{"level":0.25,"x":313,"y":149,"y2":289},{"level":0.25,"x":343,"y":150.4,"y2":286.2},{"level":0.25,"x":361,"y":151,"y2":285.5},
{"level":0.375,"x":0,"y":157,"y2":284.5},{"level":0.375,"x":22,"y":158.4,"y2":281.5},{"level":0.375,"x":43,"y":161,"y2":278},{"level":0.375,"x":60,"y":158.4,"y2":278.5},{"level":0.375,"x":76,"y":157,"y2":279.5},{"level":0.375,"x":103,"y":152.4,"y2":284.7},{"level":0.375,"x":133,"y":151,"y2":288},{"level":0.375,"x":166,"y":153,"y2":283.3},{"level":0.375,"x":193,"y":156.8,"y2":277.9},{"level":0.375,"x":210,"y":159.8,"y2":277.2},{"level":0.375,"x":226,"y":161,"y2":276},{"level":0.375,"x":253,"y":156.2,"y2":279.4},{"level":0.375,"x":280,"y":152.4,"y2":284.7},{"level":0.375,"x":313,"y":151,"y2":288},{"level":0.375,"x":343,"y":152.8,"y2":284.4},{"level":0.375,"x":361,"y":154,"y2":282.5},
{"level":0.5,"x":0,"y":160.5,"y2":281.8},{"level":0.5,"x":22,"y":163.6,"y2":277.8},{"level":0.5,"x":43,"y":167,"y2":274},{"level":0.5,"x":60,"y":163.6,"y2":274.8},{"level":0.5,"x":76,"y":160.5,"y2":276.8},{"level":0.5,"x":103,"y":153.9,"y2":283},{"level":0.5,"x":133,"y":152,"y2":286.5},{"level":0.5,"x":166,"y":155.2,"y2":281.1},{"level":0.5,"x":193,"y":161.3,"y2":274.7},{"level":0.5,"x":210,"y":165.5,"y2":273.3},{"level":0.5,"x":226,"y":167,"y2":272},{"level":0.5,"x":253,"y":160,"y2":276.5},{"level":0.5,"x":280,"y":153.9,"y2":283},{"level":0.5,"x":313,"y":152,"y2":286.5},{"level":0.5,"x":343,"y":154.8,"y2":282.4},{"level":0.5,"x":361,"y":157.5,"y2":279.8},
{"level":0.625,"x":0,"y":163,"y2":278.5},{"level":0.625,"x":22,"y":167.2,"y2":273.4},{"level":0.625,"x":43,"y":171,"y2":269},{"level":0.625,"x":60,"y":167.2,"y2":270.4},{"level":0.625,"x":76,"y":163,"y2":273.5},{"level":0.625,"x":103,"y":155.2,"y2":281.1},{"level":0.625,"x":133,"y":153,"y2":285},{"level":0.625,"x":166,"y":157,"y2":278.8},{"level":0.625,"x":193,"y":164.4,"y2":270.7},{"level":0.625,"x":210,"y":169.4,"y2":268.5},{"level":0.625,"x":226,"y":171,"y2":267},{"level":0.625,"x":253,"y":162.6,"y2":273.1},{"level":0.625,"x":280,"y":155.2,"y2":281.1},{"level":0.625,"x":313,"y":153,"y2":285},{"level":0.625,"x":343,"y":156.4,"y2":280.2},{"level":0.625,"x":361,"y":160,"y2":276.5},
{"level":0.75,"x":0,"y":166.5,"y2":276},{"level":0.75,"x":22,"y":171.7,"y2":269.5},{"level":0.75,"x":43,"y":176,"y2":264.5},{"level":0.75,"x":60,"y":171.7,"y2":266.5},{"level":0.75,"x":76,"y":166.5,"y2":271},{"level":0.75,"x":103,"y":157.5,"y2":280.2},{"level":0.75,"x":133,"y":155,"y2":284.5},{"level":0.75,"x":166,"y":159.7,"y2":277.3},{"level":0.75,"x":193,"y":168.5,"y2":267.4},{"level":0.75,"x":210,"y":174.2,"y2":264.2},{"level":0.75,"x":226,"y":176,"y2":262.5},{"level":0.75,"x":253,"y":166.2,"y2":270.4},{"level":0.75,"x":280,"y":157.5,"y2":280.2},{"level":0.75,"x":313,"y":155,"y2":284.5},{"level":0.75,"x":343,"y":159,"y2":278.9},{"level":0.75,"x":361,"y":163.5,"y2":274},
{"level":0.875,"x":0,"y":168,"y2":274.5},{"level":0.875,"x":22,"y":173.6,"y2":267.3},{"level":0.875,"x":43,"y":178,"y2":262},{"level":0.875,"x":60,"y":173.6,"y2":264.3},{"level":0.875,"x":76,"y":168,"y2":269.5},{"level":0.875,"x":103,"y":158.6,"y2":279.5},{"level":0.875,"x":133,"y":156,"y2":284},{"level":0.875,"x":166,"y":161,"y2":276.3},{"level":0.875,"x":193,"y":170.2,"y2":265.5},{"level":0.875,"x":210,"y":176.2,"y2":261.8},{"level":0.875,"x":226,"y":178,"y2":260},{"level":0.875,"x":253,"y":167.8,"y2":268.8},{"level":0.875,"x":280,"y":158.6,"y2":279.5},{"level":0.875,"x":313,"y":156,"y2":284},{"level":0.875,"x":343,"y":160.2,"y2":278},{"level":0.875,"x":361,"y":165,"y2":272.5},
{"level":1,"x":0,"y":171,"y2":271},{"level":1,"x":22,"y":178,"y2":262},{"level":1,"x":43,"y":183,"y2":256},{"level":1,"x":60,"y":178,"y2":259},{"level":1,"x":76,"y":171,"y2":266},{"level":1,"x":103,"y":160,"y2":278},{"level":1,"x":133,"y":157,"y2":283},{"level":1,"x":166,"y":163,"y2":274},{"level":1,"x":193,"y":174,"y2":261},{"level":1,"x":210,"y":181,"y2":256},{"level":1,"x":226,"y":183,"y2":254},{"level":1,"x":253,"y":171,"y2":265},{"level":1,"x":280,"y":160,"y2":278},{"level":1,"x":313,"y":157,"y2":283},{"level":1,"x":343,"y":162,"y2":276},{"level":1,"x":361,"y":168,"y2":269}]},
"mark":{"type":"area","interpolate":"monotone","orient":"vertical"},
"encoding":{"x":{"field":"x","type":"quantitative","scale":{"domain":[0,361],"nice":false,"zero":false},"axis":{"title":"ORNN with “true” ortho-ridgelet","titleX":190,"titleY":26,"values":[],"ticks":false}},"y":{"field":"y","type":"quantitative","scale":{"domain":[0,295],"nice":false,"zero":false,"reverse":true},"axis":null},"y2":{"field":"y2"},"color":{"field":"level","type":"ordinal","legend":null,"scale":{"domain":[0.125,0.25,0.375,0.5,0.625,0.75,0.875,1],"range":["#0000ff","#0080ff","#00ffff","#80ff80","#ffff00","#ff8000","#ff0000","#7f0000"]}}}}
]}]}
]}
]}
